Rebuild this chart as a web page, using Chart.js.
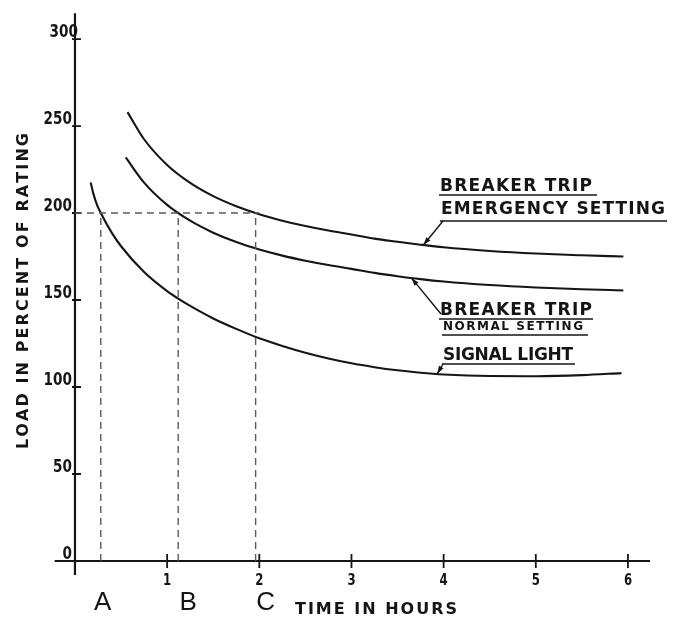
<!DOCTYPE html>
<html>
<head>
<meta charset="utf-8">
<script src="https://cdn.jsdelivr.net/npm/chart.js@4/dist/chart.umd.min.js"></script>
<style>
  html, body { margin: 0; padding: 0; background: #fff; }
  canvas { display: block; }
</style>
</head>
<body>
<canvas id="chart" width="680" height="620"></canvas>
<script>
// Time (hours) and load (% of rating) for each characteristic curve
const emergencyHours = [0.57, 0.75, 1.0, 1.25, 1.5, 1.75, 2.0, 2.25, 2.5, 2.75, 3.0, 3.25, 3.5, 3.75, 4.0, 4.5, 5.0, 5.5, 5.95];
const emergencyLoad  = [258, 242.4, 227.6, 217.3, 209.7, 203.9, 199.3, 195.6, 192.5, 189.9, 187.7, 185.3, 183.5, 181.8, 180.3, 178.2, 176.7, 175.7, 175];

const normalHours = [0.55, 0.75, 1.0, 1.25, 1.5, 1.75, 2.0, 2.25, 2.5, 2.75, 3.0, 3.25, 3.5, 3.75, 4.0, 4.5, 5.0, 5.5, 5.95];
const normalLoad  = [232, 217.5, 204.7, 195.6, 188.7, 183.3, 179, 175.5, 172.6, 170.1, 167.9, 165.6, 163.7, 162, 160.6, 158.6, 157.2, 156.2, 155.5];

const signalHours = [0.17, 0.2, 0.24, 0.28, 0.4, 0.5, 0.75, 1.0, 1.12, 1.25, 1.5, 1.75, 2.0, 2.25, 2.5, 2.75, 3.0, 3.25, 3.5, 3.75, 4.0, 4.5, 5.0, 5.5, 5.93];
const signalLoad  = [217.6, 211, 204.6, 200, 188.6, 180.9, 166.1, 155.1, 150.8, 146.6, 139.4, 133.4, 128, 123.6, 119.7, 116.4, 113.6, 111.4, 109.6, 108.2, 107.2, 106.3, 106.2, 106.8, 108];

// Reading lines at 200 % load: where each curve reaches it
const guideLoad = 200;
const markerLetters = ['A', 'B', 'C'];
const markerHours = [0.28, 1.12, 1.96];

// Axis ticks
const xTicks = [1, 2, 3, 4, 5, 6];
const yTicks = [0, 50, 100, 150, 200, 250, 300];

// Curve callouts: label lines and the point on the curve each leader touches
const calloutLines = [
  ['BREAKER TRIP', 'EMERGENCY SETTING'],
  ['BREAKER TRIP', 'NORMAL SETTING'],
  ['SIGNAL LIGHT']
];
const calloutHours = [3.78, 3.65, 3.93];
const calloutLoad  = [181.6, 162.7, 107.5];

const xTitle = 'TIME IN HOURS';
const yTitle = 'LOAD IN PERCENT OF RATING';

const INK = '#151515';
const LETTERING = '"DejaVu Sans"';

function pts(xs, ys) { return xs.map((x, i) => ({ x, y: ys[i] })); }

function curve(xs, ys) {
  return {
    data: pts(xs, ys),
    borderColor: INK,
    borderWidth: 2.1,
    pointRadius: 0,
    fill: false,
    cubicInterpolationMode: 'monotone'
  };
}

function dashed(data) {
  return {
    data,
    borderColor: '#5a5a5a',
    borderWidth: 1.4,
    borderDash: [7, 5],
    pointRadius: 0,
    fill: false,
    tension: 0
  };
}

const guideSets = [
  dashed([{ x: 0, y: guideLoad }, { x: Math.max(...markerHours) + 0.04, y: guideLoad }]),
  ...markerHours.map(h => dashed([{ x: h, y: 0 }, { x: h, y: guideLoad }]))
];

// Draws text letter by letter so it fills a given width
function spaced(ctx, text, x, y, width) {
  const chars = [...text];
  const widths = chars.map(c => ctx.measureText(c).width);
  const natural = widths.reduce((a, b) => a + b, 0);
  const gap = chars.length > 1 ? (width - natural) / (chars.length - 1) : 0;
  let cx = x;
  chars.forEach((c, i) => { ctx.fillText(c, cx, y); cx += widths[i] + gap; });
}

function squeezed(ctx, text, x, y, sx, align) {
  ctx.save();
  ctx.translate(x, y);
  ctx.scale(sx, 1);
  ctx.textAlign = align;
  ctx.fillText(text, 0, 0);
  ctx.restore();
}

function arrowTo(ctx, x0, y0, x1, y1) {
  ctx.beginPath();
  ctx.moveTo(x0, y0);
  ctx.lineTo(x1, y1);
  ctx.stroke();
  const a = Math.atan2(y1 - y0, x1 - x0);
  const L = 8, W = 2.6;
  ctx.beginPath();
  ctx.moveTo(x1, y1);
  ctx.lineTo(x1 - L * Math.cos(a) + W * Math.sin(a), y1 - L * Math.sin(a) - W * Math.cos(a));
  ctx.lineTo(x1 - L * Math.cos(a) - W * Math.sin(a), y1 - L * Math.sin(a) + W * Math.cos(a));
  ctx.closePath();
  ctx.fill();
}

const drafting = {
  id: 'drafting',
  beforeDatasetsDraw(chart) {
    const { ctx, scales: { x, y } } = chart;
    const x0 = x.getPixelForValue(0);
    const y0 = y.getPixelForValue(0);
    ctx.save();
    ctx.strokeStyle = INK;
    ctx.fillStyle = INK;
    ctx.lineWidth = 2.2;
    ctx.lineCap = 'butt';

    // axes
    ctx.beginPath();
    ctx.moveTo(x0, chart.chartArea.top + 2);
    ctx.lineTo(x0, chart.chartArea.bottom);
    ctx.moveTo(chart.chartArea.left, y0);
    ctx.lineTo(chart.chartArea.right - 1, y0);
    ctx.stroke();

    // tick marks
    ctx.lineWidth = 1.8;
    ctx.beginPath();
    yTicks.filter(v => v > 0).forEach(v => {
      const py = y.getPixelForValue(v);
      ctx.moveTo(x0 - 3, py);
      ctx.lineTo(x0 + 6, py);
    });
    xTicks.forEach(v => {
      const px = x.getPixelForValue(v);
      ctx.moveTo(px, y0 - 7);
      ctx.lineTo(px, y0 + 7);
    });
    ctx.stroke();

    // tick labels
    ctx.textBaseline = 'middle';
    ctx.font = `bold 17px ${LETTERING}`;
    yTicks.forEach(v => {
      const py = y.getPixelForValue(v);
      squeezed(ctx, String(v), x0 + (v === 300 ? 3 : -3), py - 6, 0.8, 'right');
    });
    ctx.font = `bold 15px ${LETTERING}`;
    xTicks.forEach(v => {
      squeezed(ctx, String(v), x.getPixelForValue(v), y0 + 20, 0.78, 'center');
    });

    // marker letters
    ctx.font = '26px "Liberation Sans"';
    const letterShift = [2, 10, 10];
    markerHours.forEach((h, i) => {
      ctx.textAlign = 'center';
      ctx.fillText(markerLetters[i], x.getPixelForValue(h) + letterShift[i], y0 + 42);
    });

    // axis titles
    ctx.textAlign = 'left';
    ctx.font = `bold 16px ${LETTERING}`;
    spaced(ctx, xTitle, 295, 610, 162);
    ctx.save();
    ctx.translate(24, 291);
    ctx.rotate(-Math.PI / 2);
    ctx.font = `bold 16px ${LETTERING}`;
    spaced(ctx, yTitle, -158, 0, 316);
    ctx.restore();

    ctx.restore();
  },
  afterDatasetsDraw(chart) {
    const { ctx, scales: { x, y } } = chart;
    ctx.save();
    ctx.strokeStyle = INK;
    ctx.fillStyle = INK;
    ctx.textBaseline = 'middle';
    ctx.textAlign = 'left';

    // label blocks: [text left, centre y, width, font, underline y, underline end]
    const big = `bold 17px ${LETTERING}`;
    const blocks = [
      [[440, 187, 152, big, 195, 597], [441, 210, 224, big, 221, 667]],
      [[440, 311, 152, big, 319, 593], [443, 327, 140, `bold 12px ${LETTERING}`, 335, 588]],
      [[443, 356, 130, big, 364, 575]]
    ];
    const leaderStart = [[443, 221], [441, 314], [443, 364]];

    calloutLines.forEach((lines, i) => {
      lines.forEach((t, j) => {
        const [lx, ly, w, font, uy, ux] = blocks[i][j];
        ctx.font = font;
        spaced(ctx, t, lx, ly, w);
        ctx.lineWidth = 1.6;
        ctx.beginPath();
        ctx.moveTo(lx - 1, uy);
        ctx.lineTo(ux, uy);
        ctx.stroke();
      });
      ctx.lineWidth = 1.4;
      arrowTo(ctx, leaderStart[i][0], leaderStart[i][1],
        x.getPixelForValue(calloutHours[i]), y.getPixelForValue(calloutLoad[i]));
    });
    ctx.restore();
  }
};

new Chart(document.getElementById('chart'), {
  type: 'line',
  data: {
    datasets: [
      ...guideSets,
      curve(emergencyHours, emergencyLoad),
      curve(normalHours, normalLoad),
      curve(signalHours, signalLoad)
    ]
  },
  options: {
    responsive: false,
    animation: false,
    devicePixelRatio: 1,
    layout: { padding: { left: 54.7, right: 29, top: 11.2, bottom: 45.1 } },
    plugins: { legend: { display: false }, tooltip: { enabled: false } },
    scales: {
      x: { type: 'linear', min: -0.22, max: 6.25, display: false },
      y: { type: 'linear', min: -8, max: 316, display: false }
    }
  },
  plugins: [drafting]
});
</script>
</body>
</html>
